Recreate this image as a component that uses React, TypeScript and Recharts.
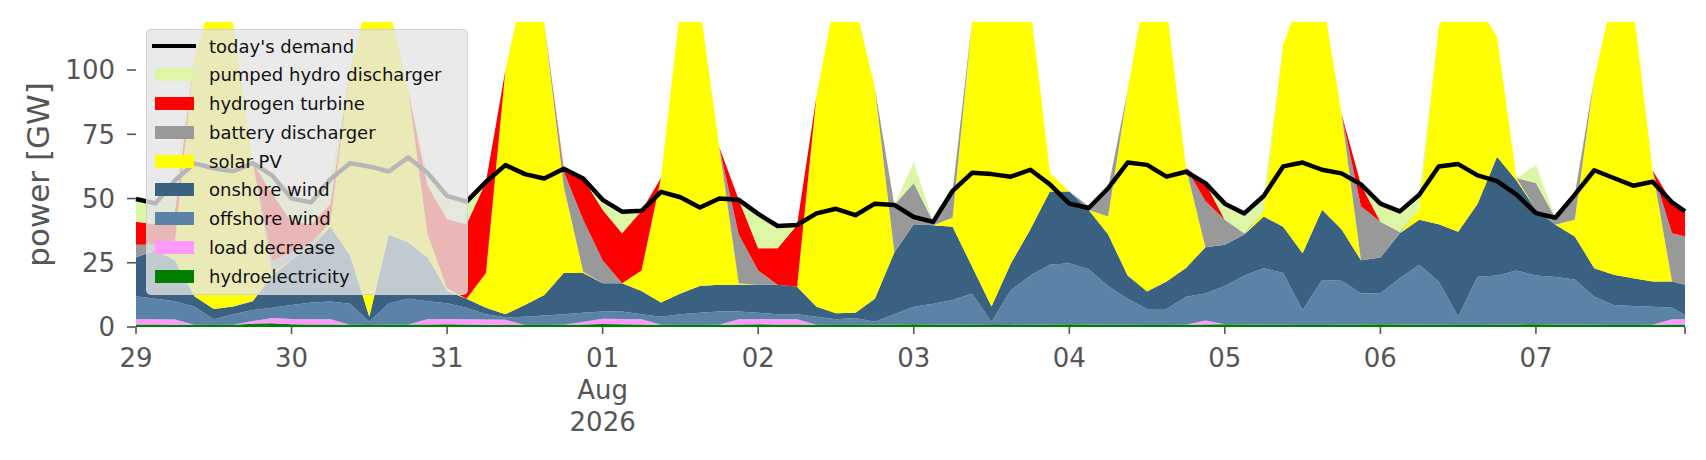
import { ComposedChart, Area, Line, XAxis, YAxis } from "recharts";

// sample times in hours from 29 Jul 00:00 (3-hourly, last point 07 Aug 23:00)
const hours = [...Array.from({ length: 80 }, (_, i) => i * 3), 239];

const dayTicks = [0, 24, 48, 72, 96, 120, 144, 168, 192, 216, 239];
const dayLabels = ["29", "30", "31", "01", "02", "03", "04", "05", "06", "07", ""];
const yTicks = [0, 25, 50, 75, 100];

// GW, one row of 8 values per day
const hydro = [
  1.0, 1.0, 0.9, 0.9, 0.8, 0.9, 1.3, 1.5,
  1.1, 1.0, 1.0, 0.9, 0.8, 0.9, 1.0, 1.0,
  1.1, 1.0, 0.9, 0.8, 0.8, 0.8, 0.9, 1.0,
  1.2, 1.1, 1.0, 0.9, 0.8, 0.8, 0.9, 1.0,
  1.1, 1.0, 1.0, 0.9, 0.8, 0.8, 0.9, 1.0,
  1.1, 1.0, 1.0, 0.9, 0.8, 0.8, 0.9, 1.0,
  1.1, 1.0, 1.0, 0.9, 0.8, 0.8, 0.9, 1.0,
  1.1, 1.0, 1.0, 0.9, 0.8, 0.8, 0.9, 1.0,
  1.1, 1.0, 1.0, 0.9, 0.8, 0.8, 0.9, 1.0,
  1.1, 1.0, 1.0, 0.9, 0.8, 0.8, 0.9, 1.0,
  1.0,
];
const loadDecrease = [
  2, 2, 2, 0, 0, 0, 1, 2,
  2, 2, 2, 0, 0, 0, 0, 2,
  2, 2, 2, 2, 0, 0, 0, 1,
  2, 2, 2, 0, 0, 0, 0, 2,
  2, 2, 2, 0, 0, 0, 0, 0,
  0, 0, 0, 0, 0, 0, 0, 0,
  0, 0, 0, 0, 0, 0, 0, 1.5,
  0, 0, 0, 0, 0, 0, 0, 0,
  0, 0, 0, 0, 0, 0, 0, 0,
  0, 0, 0, 0, 0, 0, 0, 2,
  2,
];
const offshore = [
  9, 8, 7.1, 7.1, 2.2, 4.1, 4.3, 4,
  5.5, 6.5, 6.9, 8.1, 1.2, 8.3, 10, 7,
  6.1, 4.5, 2.1, 1, 3.2, 3.7, 4.1, 3.5,
  2.8, 2.9, 2, 3.1, 4.2, 4.7, 5.1, 3,
  2.4, 2, 2, 3.1, 2.2, 2.7, 1.1, 4,
  6.8, 8, 9.5, 12.1, 1.2, 13.6, 19.1, 23.2,
  23.7, 21.5, 15, 10.1, 6.2, 6.2, 10.9, 10.5,
  14.9, 19, 21.9, 20.1, 5.8, 17.5, 17.1, 12.1,
  12, 18, 23.2, 16.8, 3.3, 18.8, 19.1, 21,
  18.9, 18.5, 17.5, 10.9, 7.8, 7.4, 7, 4.5,
  1.7,
];
const onshore = [
  15, 19, 16, 4, 4, 3, 3.4, 12.5,
  17.4, 21.5, 29.1, 19, 2, 26.8, 22, 17,
  4.8, 3.5, 2.5, 1.2, 4.6, 8, 16, 15.5,
  11, 11, 9, 5.5, 8, 10.5, 10.4, 10.4,
  10.9, 11.4, 10.7, 3.9, 2.4, 2, 9, 24,
  32.1, 30.6, 28.5, 10.5, 6, 10.4, 18, 28.5,
  27.9, 23, 20, 9, 6.8, 10.7, 11.2, 18,
  16, 16, 20.1, 18, 22.1, 27.3, 20, 12.9,
  13.9, 17.5, 17.5, 22.3, 33, 28.4, 46.3, 35,
  25.6, 20.3, 16.7, 11.1, 11.7, 10.8, 9.8, 10.2,
  11.7,
];
const solar = [
  0, 0, 7, 93, 123, 110, 54, 1,
  0, 0, 2, 72, 126, 89, 59, 9,
  1, 0, 13.5, 95, 126, 105.5, 33.6, 0.5,
  0, 0, 8, 48.5, 112, 109, 53.6, 0.5,
  0, 0, 0, 82, 124.6, 119.5, 82, 0,
  0, 0, 3.5, 95.5, 122, 100, 87, 7.3,
  0, 0, 7, 72, 121, 107, 39, 0,
  0, 0, 2, 71, 101, 84.4, 45, 0,
  0, 0, 4.3, 77, 93, 77, 46.7, 1,
  0, 0, 6.5, 74, 109.7, 106, 43.3, 0,
  0,
];
const battery = [
  5, 2, 0, 0, 0, 0, 0, 5,
  3, 2, 0, 0, 0, 0, 0, 0,
  0, 0, 0, 0, 0, 0, 5.9, 20.2,
  9, 0, 0, 0, 0, 0, 0, 19.1,
  5.6, 0, 0, 0, 0, 0, 0, 18.5,
  16, 1.4, 10.5, 0, 0, 0, 0, 0,
  0, 1.5, 11, 0, 0, 0, 0, 18,
  9.7, 0.5, 0, 0, 0, 0, 0, 21,
  14, 0.5, 0, 0, 0, 0, 0, 0,
  10.4, 2.7, 9.8, 0, 0, 0, 0, 18.8,
  18.8,
];
const hydrogen = [
  9, 8, 12, 0, 0, 0, 0, 26,
  12, 7, 7, 0, 0, 0, 0, 19,
  27, 29, 35.5, 0, 0, 0, 1.1, 16.1,
  19.6, 19.5, 23.2, 0, 0, 0, 0, 13.5,
  8.6, 14.2, 24, 0, 0, 0, 0, 0,
  0, 0, 0, 0, 0, 0, 0, 0,
  0, 0, 0, 0, 0, 0, 0, 7,
  0, 0, 0, 0, 0, 0, 0, 8.5,
  0, 0, 0, 0, 0, 0, 0, 0,
  0, 0, 0, 0, 0, 0, 0, 12,
  9.8,
];
const pumpedHydro = [
  9, 8, 12, 0, 0, 0, 0, 7,
  9, 8.5, 9.5, 0, 0, 0, 0, 5,
  9, 8.8, 0, 0, 0, 0, 0, 0,
  4.4, 8.4, 0, 0, 0, 0, 0, 0,
  13, 8.7, 0, 0, 0, 0, 0, 0,
  8, 0, 0, 0, 0, 0, 0, 0,
  0, 0, 0, 0, 0, 0, 0, 0,
  6.3, 7.7, 6, 0, 0, 0, 0, 0,
  7, 8, 5.5, 0, 0, 0, 0, 0,
  7, 0, 0, 0, 0, 0, 0, 0,
  0,
];
const demand = [
  49.8, 48.1, 57, 63.7, 61.8, 60.6, 63.8, 59,
  50, 48.5, 57.5, 63.7, 62.5, 60.5, 66, 60,
  51, 48.8, 56.5, 63, 59.5, 57.8, 61.6, 57.8,
  49.5, 44.9, 45.2, 52.6, 50.5, 46.5, 50, 49.5,
  44, 39.3, 39.7, 44.2, 46, 43.5, 48, 47.5,
  42.8, 40.9, 53, 60, 59.5, 58.5, 61.2, 55.5,
  48, 46.3, 54, 64, 63.1, 58.5, 60.4, 56,
  48, 44.2, 51, 62.5, 64, 61.2, 59.8, 55.5,
  48, 45, 51.5, 62.5, 63.4, 59, 56.8, 51.5,
  44.3, 42.5, 51.5, 61, 58, 55, 56.5, 48.5,
  45,
];

// bottom to top
const layers = [
  { key: "hydro", name: "hydroelectricity", color: "#008000", values: hydro },
  { key: "load", name: "load decrease", color: "#ff99ff", values: loadDecrease },
  { key: "offshore", name: "offshore wind", color: "#5b83a7", values: offshore },
  { key: "onshore", name: "onshore wind", color: "#3b6182", values: onshore },
  { key: "solar", name: "solar PV", color: "#ffff00", values: solar },
  { key: "battery", name: "battery discharger", color: "#999999", values: battery },
  { key: "hydrogen", name: "hydrogen turbine", color: "#ff0000", values: hydrogen },
  { key: "pumped", name: "pumped hydro discharger", color: "#dcf6a6", values: pumpedHydro },
];

const data = hours.map((hour, i) => {
  const row: Record<string, number> = { hour, demand: demand[i] };
  layers.forEach((l) => (row[l.key] = l.values[i]));
  return row;
});

const FONT = "DejaVu Sans";

function DayTick(props: any) {
  const { x, y, payload } = props;
  const i = dayTicks.indexOf(payload.value);
  const lines = i === 3 ? ["01", "Aug", "2026"] : [dayLabels[i]];
  return (
    <text x={x} y={y} textAnchor="middle" fill="#555" fontSize={26} fontFamily={FONT}>
      {lines.map((t, k) => (
        <tspan key={k} x={x} y={y + 33 + k * 32}>
          {t}
        </tspan>
      ))}
    </text>
  );
}

function YLabel(props: any) {
  const vb = props.viewBox || { x: 0, y: 22, width: 136, height: 305 };
  const cx = vb.x + 38;
  const cy = vb.y + vb.height / 2;
  return (
    <text
      x={cx}
      y={cy}
      transform={`rotate(-90 ${cx} ${cy})`}
      textAnchor="middle"
      dominantBaseline="central"
      fill="#555"
      fontSize={31}
      fontFamily={FONT}
    >
      power [GW]
    </text>
  );
}

function LegendBox() {
  const entries = [
    { name: "today's demand", color: "#000", line: true },
    ...[...layers].reverse().map((l) => ({ name: l.name, color: l.color, line: false })),
  ];
  return (
    <div
      style={{
        position: "absolute",
        left: 146,
        top: 29,
        width: 320,
        height: 264,
        background: "rgba(229,229,229,0.8)",
        border: "1px solid rgba(204,204,204,0.8)",
        borderRadius: 5,
        fontFamily: FONT,
        fontSize: 18,
        color: "#111",
      }}
    >
      {entries.map((e, i) => (
        <div
          key={e.name}
          style={{ position: "absolute", left: 0, top: 3 + i * 28.75, height: 26, display: "flex", alignItems: "center" }}
        >
          {e.line ? (
            <div style={{ marginLeft: 5, width: 44, height: 4, background: e.color }} />
          ) : (
            <div style={{ marginLeft: 8, width: 39, height: 13, background: e.color }} />
          )}
          <span style={{ marginLeft: e.line ? 13 : 15, whiteSpace: "nowrap" }}>{e.name}</span>
        </div>
      ))}
    </div>
  );
}

export default function App() {
  return (
    <div style={{ position: "absolute", left: 0, top: 0, width: 1706, height: 460, background: "#fff" }}>
      <ComposedChart width={1706} height={460} data={data} margin={{ top: 22, right: 21, left: 0, bottom: 0 }}>
        <XAxis
          dataKey="hour"
          type="number"
          domain={[0, 239]}
          ticks={dayTicks}
          tick={<DayTick />}
          interval={0}
          axisLine={false}
          tickLine={{ stroke: "#555", strokeWidth: 1.6 }}
          tickSize={7}
          tickMargin={0}
          height={133}
        />
        <YAxis
          type="number"
          domain={[0, 118.7]}
          ticks={yTicks}
          allowDataOverflow
          width={136}
          axisLine={false}
          tickLine={{ stroke: "#555", strokeWidth: 1.6 }}
          tickSize={9}
          tickMargin={12}
          tick={{ fill: "#555", fontSize: 26, fontFamily: FONT }}
          label={<YLabel />}
        />
        {layers.map((l) => (
          <Area
            key={l.key}
            dataKey={l.key}
            name={l.name}
            stackId="gen"
            type="linear"
            fill={l.color}
            fillOpacity={1}
            stroke="none"
            dot={false}
            activeDot={false}
            isAnimationActive={false}
          />
        ))}
        <Line
          dataKey="demand"
          name="today's demand"
          type="linear"
          stroke="#000"
          strokeWidth={4.5}
          strokeLinejoin="round"
          dot={false}
          activeDot={false}
          isAnimationActive={false}
        />
      </ComposedChart>
      <LegendBox />
    </div>
  );
}
